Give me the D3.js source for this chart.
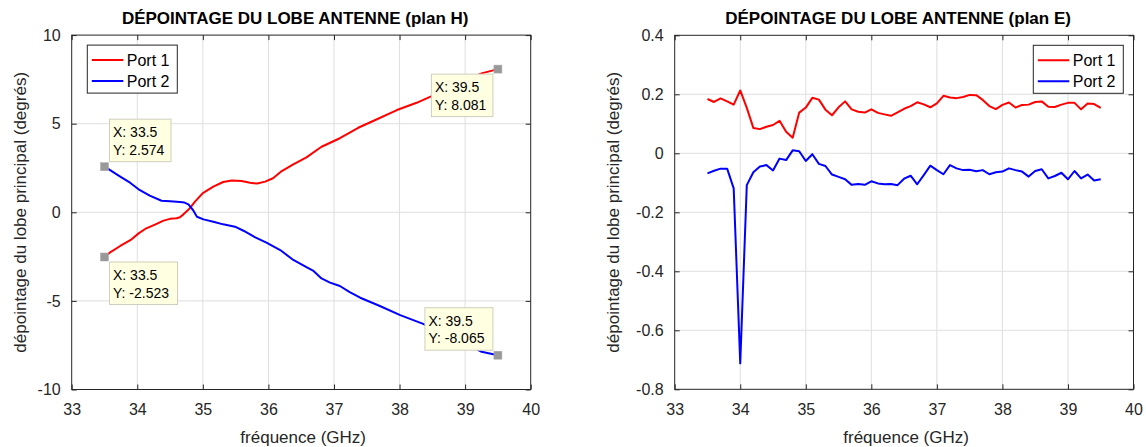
<!DOCTYPE html>
<html>
<head>
<meta charset="utf-8">
<script src="https://cdn.jsdelivr.net/npm/d3@7"></script>
<style>
  html, body { margin: 0; padding: 0; background: #ffffff; }
  svg { display: block; font-family: "Liberation Sans", Arial, Helvetica, sans-serif; }
</style>
</head>
<body>
<svg id="chart" width="1146" height="447"></svg>
<script>
// ---------------- DATA ----------------
const seriesNames = ["Port 1", "Port 2"];
const titleH = "DÉPOINTAGE DU LOBE ANTENNE (plan H)";
const titleE = "DÉPOINTAGE DU LOBE ANTENNE (plan E)";
const xLabel = "fréquence (GHz)";
const yLabel = "dépointage du lobe principal (degrés)";

const xTicks = [33, 34, 35, 36, 37, 38, 39, 40];
const yTicksH = [-10, -5, 0, 5, 10];
const yTicksE = [-0.8, -0.6, -0.4, -0.2, 0, 0.2, 0.4];
const yTickLabelsE = ["-0.8", "-0.6", "-0.4", "-0.2", "0", "0.2", "0.4"];
const yTickLabelsH = ["-10", "-5", "0", "5", "10"];

// Plan H, Port 1
const freqH1 = [33.5, 33.58, 33.74, 33.9, 34.02, 34.12, 34.27, 34.4, 34.5, 34.6, 34.65, 34.7, 34.75, 34.8, 34.88, 35.0,
  35.16, 35.31, 35.44, 35.59, 35.72, 35.83, 35.95, 36.07, 36.19, 36.38, 36.58, 36.81, 37.09, 37.37, 37.63, 37.96,
  38.26, 38.49, 38.75, 39.0, 39.25, 39.5];
const portH1 = [-2.523, -2.28, -1.90, -1.56, -1.19, -0.94, -0.70, -0.47, -0.37, -0.34, -0.28, -0.13, 0.04, 0.22, 0.60, 1.08,
  1.45, 1.71, 1.80, 1.77, 1.67, 1.62, 1.73, 1.92, 2.29, 2.71, 3.10, 3.70, 4.18, 4.77, 5.21, 5.77,
  6.18, 6.56, 7.0, 7.42, 7.84, 8.081];
// Plan H, Port 2
const freqH2 = [33.5, 33.58, 33.74, 33.89, 34.02, 34.19, 34.37, 34.5, 34.65, 34.72, 34.78, 34.85, 34.91, 35.01, 35.16, 35.31,
  35.49, 35.62, 35.8, 35.97, 36.18, 36.38, 36.58, 36.68, 36.81, 36.94, 37.09, 37.24, 37.4, 37.7, 38.01, 38.36,
  38.6, 39.0, 39.25, 39.5];
const portH2 = [2.574, 2.39, 2.01, 1.67, 1.30, 0.94, 0.65, 0.63, 0.58, 0.55, 0.45, 0.13, -0.25, -0.40, -0.53, -0.68,
  -0.81, -1.04, -1.41, -1.71, -2.13, -2.69, -3.10, -3.29, -3.73, -3.97, -4.16, -4.51, -4.82, -5.29, -5.80, -6.30,
  -6.75, -7.35, -7.87, -8.065];

// Plan E
const freqE = [33.5, 33.6, 33.7, 33.8, 33.9, 34.0, 34.1, 34.2, 34.3, 34.4, 34.5, 34.6, 34.7, 34.8, 34.9,
  35.0, 35.1, 35.2, 35.3, 35.4, 35.5, 35.6, 35.7, 35.8, 35.9, 36.0, 36.1, 36.2, 36.3, 36.4, 36.5,
  36.6, 36.7, 36.8, 36.9, 37.0, 37.1, 37.2, 37.3, 37.4, 37.5, 37.6, 37.7, 37.8, 37.9, 38.0,
  38.1, 38.2, 38.3, 38.4, 38.5, 38.6, 38.7, 38.8, 38.9, 39.0, 39.1, 39.2, 39.3, 39.4, 39.5];
const portE1 = [0.184, 0.174, 0.186, 0.176, 0.165, 0.213, 0.154, 0.086, 0.082, 0.090, 0.096, 0.110, 0.073, 0.053, 0.138,
  0.155, 0.188, 0.182, 0.148, 0.129, 0.156, 0.176, 0.149, 0.141, 0.138, 0.149, 0.137, 0.132, 0.127, 0.139, 0.151,
  0.160, 0.173, 0.166, 0.156, 0.169, 0.195, 0.189, 0.187, 0.191, 0.198, 0.197, 0.181, 0.160, 0.150, 0.164,
  0.172, 0.155, 0.164, 0.165, 0.174, 0.176, 0.158, 0.157, 0.165, 0.171, 0.171, 0.149, 0.169, 0.167, 0.154];
const portE2 = [-0.068, -0.059, -0.052, -0.052, -0.119, -0.712, -0.108, -0.064, -0.045, -0.040, -0.058, -0.018, -0.023, 0.010, 0.007,
  -0.026, -0.003, -0.036, -0.043, -0.072, -0.080, -0.088, -0.107, -0.104, -0.107, -0.095, -0.102, -0.105, -0.104, -0.108, -0.086,
  -0.076, -0.105, -0.074, -0.042, -0.057, -0.071, -0.040, -0.051, -0.057, -0.056, -0.061, -0.057, -0.071, -0.064, -0.062,
  -0.051, -0.057, -0.062, -0.079, -0.060, -0.054, -0.085, -0.077, -0.066, -0.088, -0.060, -0.085, -0.072, -0.092, -0.088];

// Data tips (plan H)
const tipX = [33.5, 33.5, 39.5, 39.5];
const tipY = [2.574, -2.523, 8.081, -8.065];
const tipText = [["X: 33.5", "Y: 2.574"], ["X: 33.5", "Y: -2.523"], ["X: 39.5", "Y: 8.081"], ["X: 39.5", "Y: -8.065"]];
const tipPlace = ["ur", "lr", "ll", "ul"];

// ---------------- DRAWING ----------------
const svg = d3.select("#chart");
svg.append("rect").attr("width", 1146).attr("height", 447).attr("fill", "#ffffff");

const AX = "#262626";
const GRID = "#dfdfdf";
const colors = ["#ff0000", "#0000ff"];

function panel(opt) {
  const g = svg.append("g");
  const x = d3.scaleLinear().domain([33, 40]).range([opt.left, opt.right]);
  const y = d3.scaleLinear().domain(opt.yDomain).range([opt.bottom, opt.top]);
  const w = opt.right - opt.left, h = opt.bottom - opt.top;

  // grid
  g.append("g").selectAll("line").data(xTicks.slice(1, -1)).join("line")
    .attr("x1", d => x(d)).attr("x2", d => x(d)).attr("y1", opt.top).attr("y2", opt.bottom)
    .attr("stroke", GRID).attr("stroke-width", 1);
  g.append("g").selectAll("line").data(opt.yTicks.slice(1, -1)).join("line")
    .attr("x1", opt.left).attr("x2", opt.right).attr("y1", d => y(d)).attr("y2", d => y(d))
    .attr("stroke", GRID).attr("stroke-width", 1);

  // axes with inward ticks
  const tl = 5;
  const bottomAx = g.append("g").attr("transform", `translate(0,${opt.bottom})`)
    .call(d3.axisBottom(x).tickValues(xTicks).tickSize(-tl).tickPadding(tl + 9).tickFormat(d3.format("d")));
  const topAx = g.append("g").attr("transform", `translate(0,${opt.top})`)
    .call(d3.axisTop(x).tickValues(xTicks).tickSize(-tl).tickFormat(""));
  const leftAx = g.append("g").attr("transform", `translate(${opt.left},0)`)
    .call(d3.axisLeft(y).tickValues(opt.yTicks).tickSize(-tl).tickPadding(tl + 6)
      .tickFormat((d, i) => opt.yLabels[i]));
  const rightAx = g.append("g").attr("transform", `translate(${opt.right},0)`)
    .call(d3.axisRight(y).tickValues(opt.yTicks).tickSize(-tl).tickFormat(""));
  [bottomAx, topAx, leftAx, rightAx].forEach(a => {
    a.select(".domain").remove();
    a.selectAll("line").attr("stroke", AX).attr("stroke-width", 1);
    a.selectAll("text").attr("fill", AX).attr("font-size", 16).attr("font-family", null);
  });
  g.append("rect").attr("x", opt.left).attr("y", opt.top).attr("width", w).attr("height", h)
    .attr("fill", "none").attr("stroke", AX).attr("stroke-width", 1);

  // lines
  const line = d3.line().x(d => x(d[0])).y(d => y(d[1]));
  opt.series.forEach((s, i) => {
    g.append("path").datum(s.xs.map((v, k) => [v, s.ys[k]]))
      .attr("d", line).attr("fill", "none").attr("stroke", colors[i])
      .attr("stroke-width", 2).attr("stroke-linejoin", "round");
  });

  // titles & labels
  g.append("text").attr("x", (opt.left + opt.right) / 2 - 6).attr("y", 24)
    .attr("text-anchor", "middle").attr("font-size", 17).attr("font-weight", "bold").attr("fill", "#000")
    .text(opt.title);
  g.append("text").attr("x", (opt.left + opt.right) / 2 + 2).attr("y", 443)
    .attr("text-anchor", "middle").attr("font-size", 17).attr("fill", AX).text(xLabel);
  g.append("text").attr("transform", `translate(${opt.ylabX},${(opt.top + opt.bottom) / 2}) rotate(-90)`)
    .attr("text-anchor", "middle").attr("font-size", 17).attr("fill", AX).text(yLabel);

  // legend
  const lg = g.append("g").attr("transform", `translate(${opt.legX},${opt.top + 10})`);
  lg.append("rect").attr("width", 90).attr("height", 48).attr("fill", "#fff").attr("stroke", AX).attr("stroke-width", 1);
  seriesNames.forEach((n, i) => {
    const yy = 15 + i * 21;
    lg.append("line").attr("x1", 4.5).attr("x2", 36).attr("y1", yy).attr("y2", yy)
      .attr("stroke", colors[i]).attr("stroke-width", 2);
    lg.append("text").attr("x", 39.5).attr("y", yy + 5.5).attr("font-size", 16).attr("fill", "#000").text(n);
  });

  return { g, x, y };
}

const left = panel({
  left: 71.7, right: 530.7, top: 35.1, bottom: 389.5, yDomain: [-10, 10], yTicks: yTicksH, yLabels: yTickLabelsH,
  title: titleH, ylabX: 26, legX: 87.3,
  series: [{ xs: freqH1, ys: portH1 }, { xs: freqH2, ys: portH2 }]
});
const right = panel({
  left: 674.7, right: 1133.5, top: 35.3, bottom: 389.3, yDomain: [-0.8, 0.4], yTicks: yTicksE, yLabels: yTickLabelsE,
  title: titleE, ylabX: 619, legX: 1033.3,
  series: [{ xs: freqE, ys: portE1 }, { xs: freqE, ys: portE2 }]
});

// data tips on left panel
tipX.forEach((tx, i) => {
  const px = left.x(tx), py = left.y(tipY[i]);
  const place = tipPlace[i];
  const lines = tipText[i];
  const tg = left.g.append("g");
  const bw = lines[1].length > 8 ? 68 : 61.5, bh = 42.5;
  const bx = place[1] === "r" ? px + 5 : px - 5 - bw;
  const by = place[0] === "u" ? py - 5 - bh : py + 5;
  tg.append("rect").attr("x", bx).attr("y", by).attr("width", bw).attr("height", bh)
    .attr("fill", "#ffffe1").attr("stroke", "#cfcfbf").attr("stroke-width", 1);
  lines.forEach((t, k) => {
    tg.append("text").attr("x", bx + 3.5).attr("y", by + 18 + k * 17.5)
      .attr("font-size", 14).attr("fill", "#000").text(t);
  });
  tg.append("rect").attr("x", px - 4).attr("y", py - 4).attr("width", 8).attr("height", 8)
    .attr("fill", "#999999").attr("stroke", "#aaaaaa").attr("stroke-width", 0.5);
});
</script>
</body>
</html>
